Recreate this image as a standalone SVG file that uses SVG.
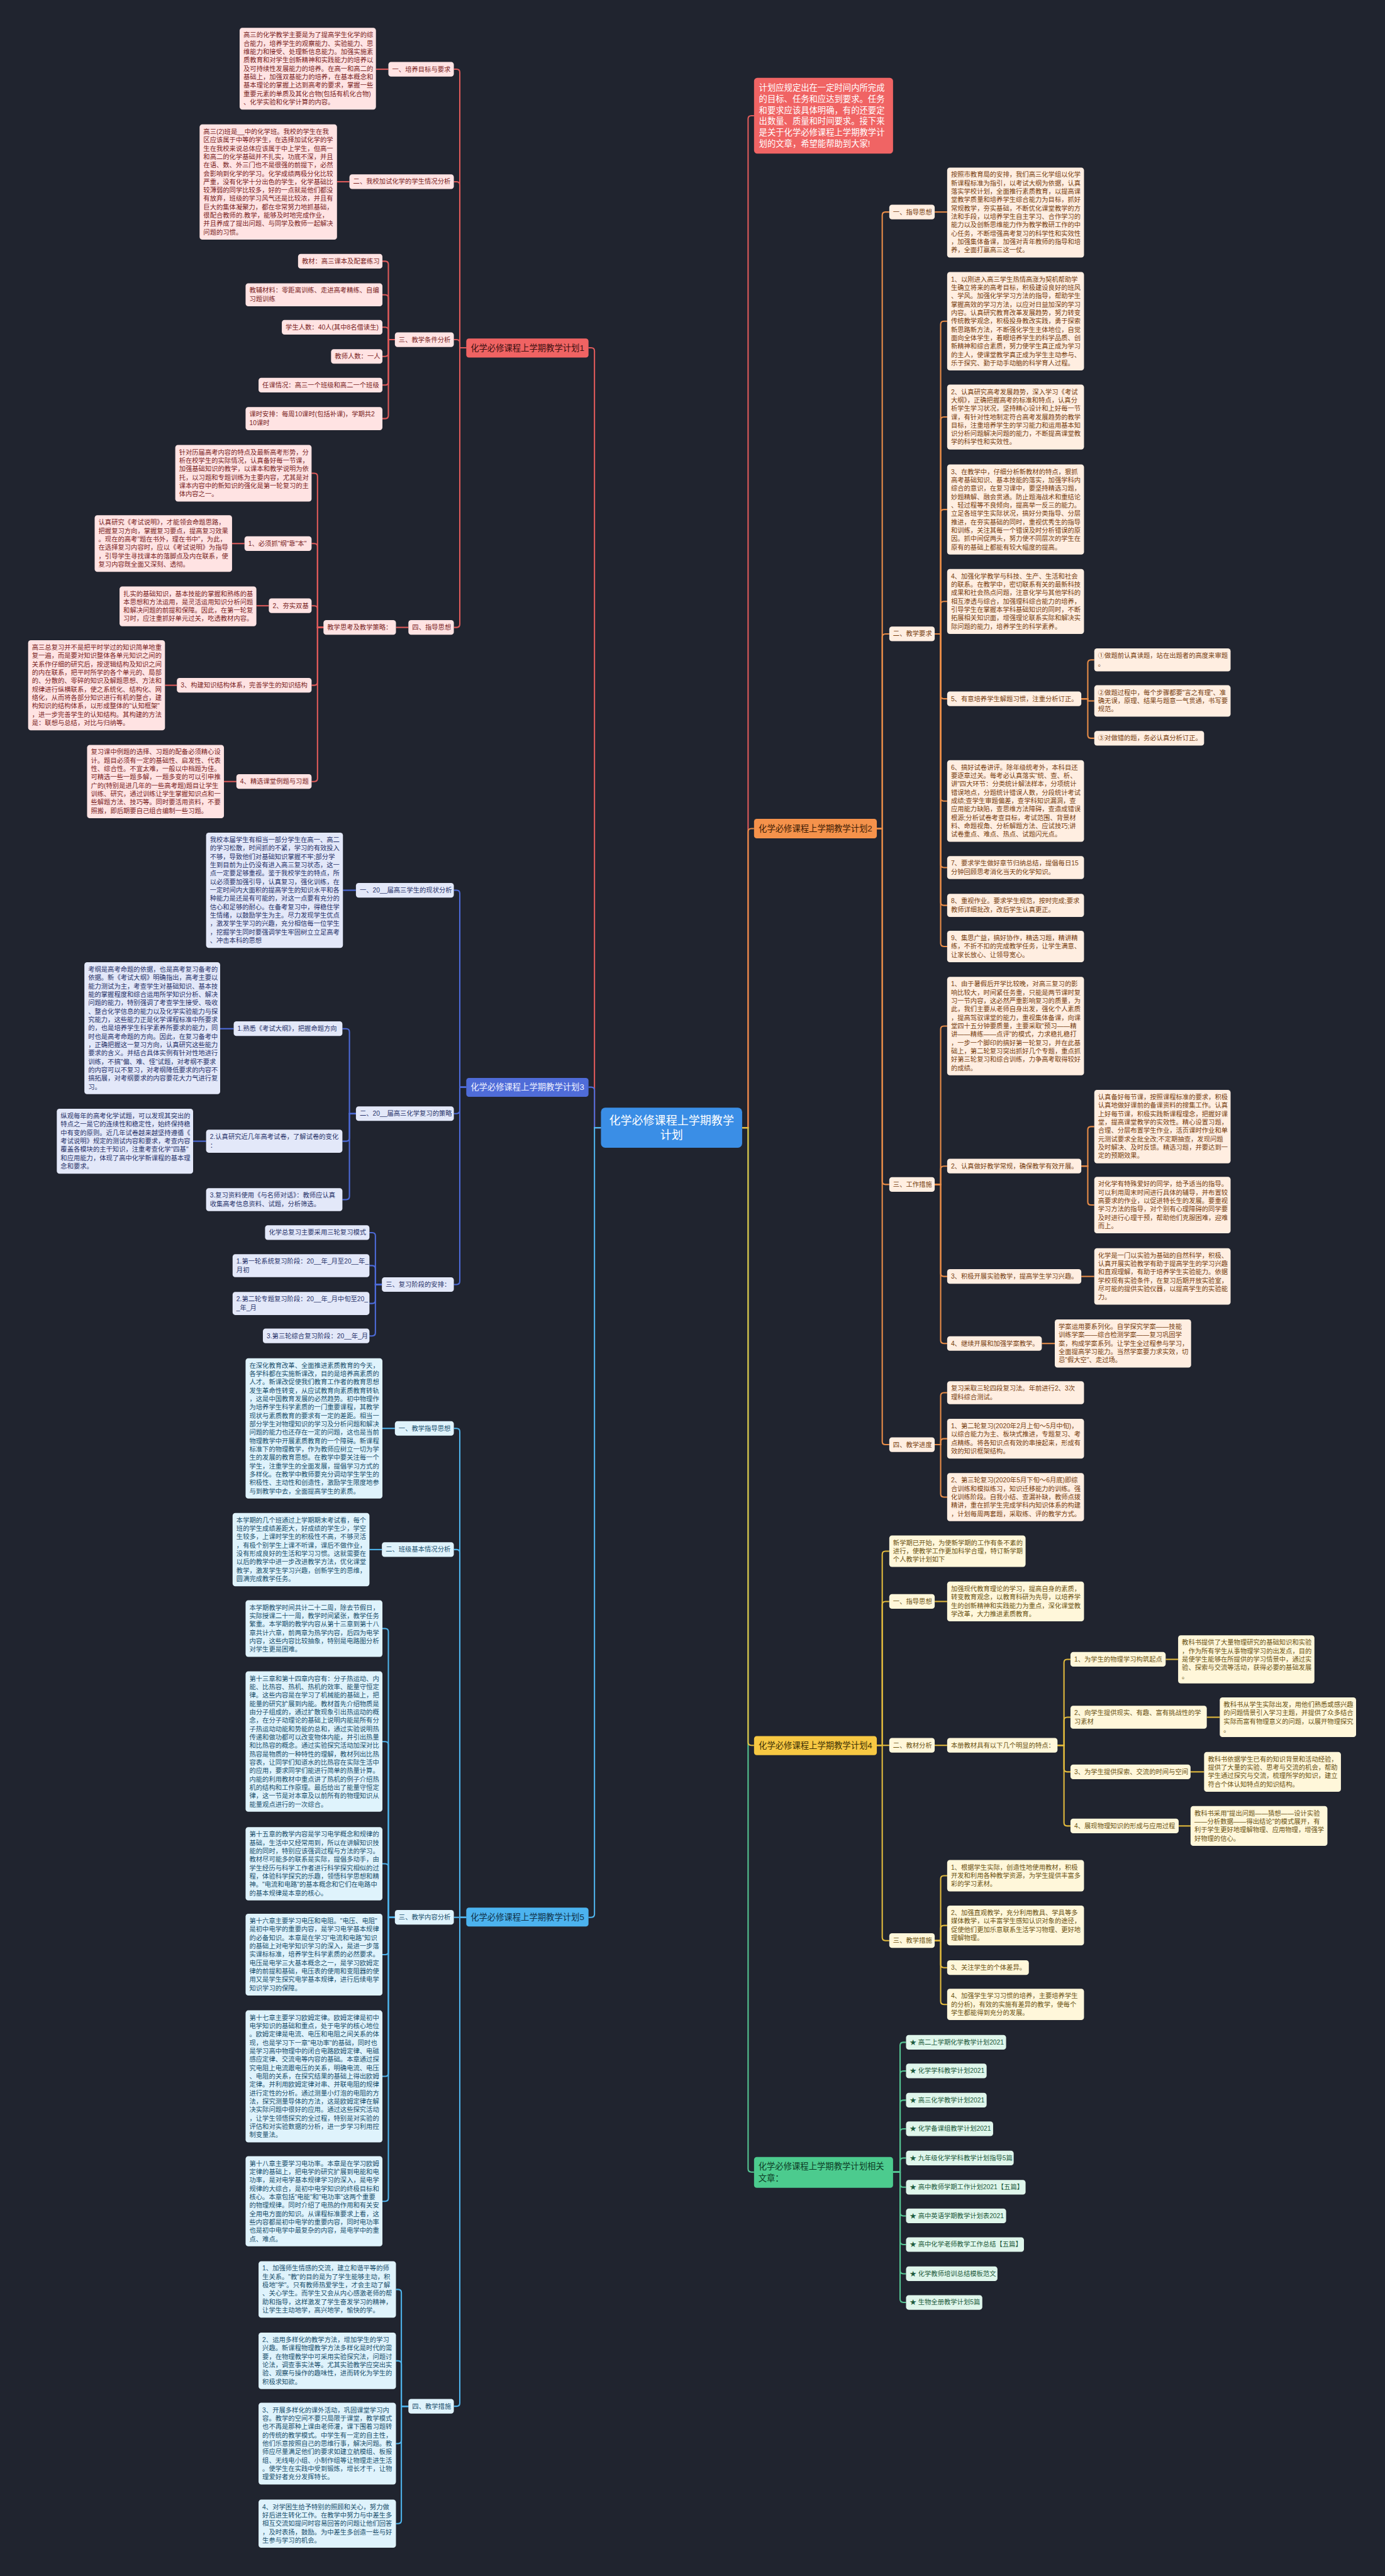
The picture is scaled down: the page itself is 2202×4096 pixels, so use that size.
<svg xmlns="http://www.w3.org/2000/svg" width="2202" height="4096" viewBox="0 0 2202 4096">
<style>
text{font-family:"Liberation Sans","Noto Sans CJK SC",sans-serif;font-size:12px}
.r rect{fill:#ffe3e3}.r text{fill:#7a2424}
.b rect{fill:#e3e8f9}.b text{fill:#28336a}
.c rect{fill:#dff3fc}.c text{fill:#19506d}
.o rect{fill:#ffeee1}.o text{fill:#77400f}
.y rect{fill:#fff7da}.y text{fill:#6b5312}
.g rect{fill:#dff6eb}.g text{fill:#1c5a3c}
.L path{fill:none;stroke-width:2.4}
.lr{stroke:#e05b5b}.lb{stroke:#4d6bd9}.lc{stroke:#4fb4ec}.lo{stroke:#e98d48}.ly{stroke:#e3bb3d}.lg{stroke:#55c593}
.m text{font-size:15.5px}
.ctr{text-anchor:middle}
</style>
<rect x="0" y="0" width="2202" height="4096" fill="#20242f"/>
<g transform="scale(0.86)">
<g id="connectors" class="L">
<path class="lr" d="M1111 2085H1099V649Q1099 643 1093 643H1088"/>
<path class="lb" d="M1111 2085H1099V2016Q1099 2010 1093 2010H1088"/>
<path class="lc" d="M1111 2085H1099V3539Q1099 3545 1093 3545H1088"/>
<path class="lr" d="M1372 2085H1383V220Q1383 214 1389 214H1394"/>
<path class="lo" d="M1372 2085H1383V1538Q1383 1532 1389 1532H1394"/>
<path class="lg" d="M1372 2085H1383V4010Q1383 4016 1389 4016H1394"/>
<path class="ly" d="M1372 2085H1383V3221Q1383 3227 1389 3227H1394"/>
<path class="lr" d="M862 643H850V134Q850 128 844 128H839"/>
<path class="lr" d="M862 643H850V342Q850 336 844 336H839"/>
<path class="lr" d="M862 643H850V634Q850 628 844 628H839"/>
<path class="lr" d="M862 643H850V1154Q850 1160 844 1160H839"/>
<path class="lr" d="M718 128H695"/>
<path class="lr" d="M646 336H623"/>
<path class="lr" d="M730 628H718V489Q718 483 712 483H707"/>
<path class="lr" d="M730 628H718V551Q718 545 712 545H707"/>
<path class="lr" d="M730 628H718V611Q718 605 712 605H707"/>
<path class="lr" d="M730 628H718V653Q718 659 712 659H707"/>
<path class="lr" d="M730 628H718V706Q718 712 712 712H707"/>
<path class="lr" d="M730 628H718V768Q718 774 712 774H707"/>
<path class="lr" d="M755 1160H732"/>
<path class="lr" d="M598 1160H587V881Q587 875 581 875H576"/>
<path class="lr" d="M598 1160H587V1011Q587 1005 581 1005H576"/>
<path class="lr" d="M598 1160H587V1126Q587 1120 581 1120H576"/>
<path class="lr" d="M598 1160H587V1261Q587 1267 581 1267H576"/>
<path class="lr" d="M598 1160H587V1439Q587 1445 581 1445H576"/>
<path class="lr" d="M452 1005H429"/>
<path class="lr" d="M497 1120H474"/>
<path class="lr" d="M327 1267H305"/>
<path class="lr" d="M437 1445H414"/>
<path class="lb" d="M862 2010H850V1652Q850 1646 844 1646H839"/>
<path class="lb" d="M862 2010H850V2053Q850 2059 844 2059H839"/>
<path class="lb" d="M862 2010H850V2369Q850 2375 844 2375H839"/>
<path class="lb" d="M658 1646H634"/>
<path class="lb" d="M658 2059H646V1908Q646 1902 640 1902H633"/>
<path class="lb" d="M658 2059H646V2104Q646 2110 640 2110H633"/>
<path class="lb" d="M658 2059H646V2212Q646 2218 640 2218H633"/>
<path class="lb" d="M432 1902H407"/>
<path class="lb" d="M381 2110H357"/>
<path class="lb" d="M706 2375H694V2285Q694 2279 688 2279H683"/>
<path class="lb" d="M706 2375H694V2346Q694 2340 688 2340H683"/>
<path class="lb" d="M706 2375H694V2404Q694 2410 688 2410H683"/>
<path class="lb" d="M706 2375H694V2464Q694 2470 688 2470H683"/>
<path class="lc" d="M862 3545H850V2647Q850 2641 844 2641H839"/>
<path class="lc" d="M862 3545H850V2871Q850 2865 844 2865H839"/>
<path class="lc" d="M862 3545H839"/>
<path class="lc" d="M862 3545H850V4443Q850 4449 844 4449H839"/>
<path class="lc" d="M730 2641H707"/>
<path class="lc" d="M706 2865H683"/>
<path class="lc" d="M730 3545H718V3017Q718 3011 712 3011H707"/>
<path class="lc" d="M730 3545H718V3226Q718 3220 712 3220H707"/>
<path class="lc" d="M730 3545H718V3452Q718 3446 712 3446H707"/>
<path class="lc" d="M730 3545H718V3608Q718 3614 712 3614H707"/>
<path class="lc" d="M730 3545H718V3833Q718 3839 712 3839H707"/>
<path class="lc" d="M730 3545H718V4064Q718 4070 712 4070H707"/>
<path class="lc" d="M755 4449H742V4239Q742 4233 736 4233H732"/>
<path class="lc" d="M755 4449H742V4371Q742 4365 736 4365H732"/>
<path class="lc" d="M755 4449H742V4512Q742 4518 736 4518H732"/>
<path class="lc" d="M755 4449H742V4660Q742 4666 736 4666H732"/>
<path class="lo" d="M1621 1532H1631V398Q1631 392 1637 392H1644"/>
<path class="lo" d="M1621 1532H1631V1178Q1631 1172 1637 1172H1644"/>
<path class="lo" d="M1621 1532H1631V2184Q1631 2190 1637 2190H1644"/>
<path class="lo" d="M1621 1532H1631V2665Q1631 2671 1637 2671H1644"/>
<path class="lo" d="M1728 392H1751"/>
<path class="lo" d="M1728 1172H1739V600Q1739 594 1745 594H1751"/>
<path class="lo" d="M1728 1172H1739V777Q1739 771 1745 771H1751"/>
<path class="lo" d="M1728 1172H1739V948Q1739 942 1745 942H1751"/>
<path class="lo" d="M1728 1172H1739V1118Q1739 1112 1745 1112H1751"/>
<path class="lo" d="M1728 1172H1739V1286Q1739 1292 1745 1292H1751"/>
<path class="lo" d="M1728 1172H1739V1475Q1739 1481 1745 1481H1751"/>
<path class="lo" d="M1728 1172H1739V1598Q1739 1604 1745 1604H1751"/>
<path class="lo" d="M1728 1172H1739V1668Q1739 1674 1745 1674H1751"/>
<path class="lo" d="M1728 1172H1739V1744Q1739 1750 1745 1750H1751"/>
<path class="lo" d="M1999 1292H2011V1226Q2011 1220 2017 1220H2023"/>
<path class="lo" d="M1999 1292H2011V1296H2023"/>
<path class="lo" d="M1999 1292H2011V1359Q2011 1365 2017 1365H2023"/>
<path class="lo" d="M1728 2190H1739V1903Q1739 1897 1745 1897H1751"/>
<path class="lo" d="M1728 2190H1739V2162Q1739 2156 1745 2156H1751"/>
<path class="lo" d="M1728 2190H1739V2354Q1739 2360 1745 2360H1751"/>
<path class="lo" d="M1728 2190H1739V2478Q1739 2484 1745 2484H1751"/>
<path class="lo" d="M1999 2156H2011V2089Q2011 2083 2017 2083H2023"/>
<path class="lo" d="M1999 2156H2011V2222Q2011 2228 2017 2228H2023"/>
<path class="lo" d="M1999 2360H2023"/>
<path class="lo" d="M1926 2484H1950"/>
<path class="lo" d="M1728 2671H1739V2581Q1739 2575 1745 2575H1751"/>
<path class="lo" d="M1728 2671H1739V2666Q1739 2660 1745 2660H1751"/>
<path class="lo" d="M1728 2671H1739V2762Q1739 2768 1745 2768H1751"/>
<path class="ly" d="M1621 3227H1631V2874Q1631 2868 1637 2868H1644"/>
<path class="ly" d="M1621 3227H1631V2967Q1631 2961 1637 2961H1644"/>
<path class="ly" d="M1621 3227H1644"/>
<path class="ly" d="M1621 3227H1631V3582Q1631 3588 1637 3588H1644"/>
<path class="ly" d="M1728 2961H1751"/>
<path class="ly" d="M1728 3227H1751"/>
<path class="ly" d="M1955 3227H1967V3074Q1967 3068 1973 3068H1979"/>
<path class="ly" d="M1955 3227H1967V3181Q1967 3175 1973 3175H1979"/>
<path class="ly" d="M1955 3227H1967V3270Q1967 3276 1973 3276H1979"/>
<path class="ly" d="M1955 3227H1967V3370Q1967 3376 1973 3376H1979"/>
<path class="ly" d="M2155 3068H2178"/>
<path class="ly" d="M2231 3175H2255"/>
<path class="ly" d="M2201 3276H2226"/>
<path class="ly" d="M2179 3376H2201"/>
<path class="ly" d="M1728 3588H1739V3474Q1739 3468 1745 3468H1751"/>
<path class="ly" d="M1728 3588H1739V3566Q1739 3560 1745 3560H1751"/>
<path class="ly" d="M1728 3588H1739V3632Q1739 3638 1745 3638H1751"/>
<path class="ly" d="M1728 3588H1739V3700Q1739 3706 1745 3706H1751"/>
<path class="lg" d="M1651 4016H1664V3782Q1664 3776 1670 3776H1675"/>
<path class="lg" d="M1651 4016H1664V3835Q1664 3829 1670 3829H1675"/>
<path class="lg" d="M1651 4016H1664V3889Q1664 3883 1670 3883H1675"/>
<path class="lg" d="M1651 4016H1664V3942Q1664 3936 1670 3936H1675"/>
<path class="lg" d="M1651 4016H1664V3996Q1664 3990 1670 3990H1675"/>
<path class="lg" d="M1651 4016H1664V4038Q1664 4044 1670 4044H1675"/>
<path class="lg" d="M1651 4016H1664V4091Q1664 4097 1670 4097H1675"/>
<path class="lg" d="M1651 4016H1664V4144Q1664 4150 1670 4150H1675"/>
<path class="lg" d="M1651 4016H1664V4198Q1664 4204 1670 4204H1675"/>
<path class="lg" d="M1651 4016H1664V4251Q1664 4257 1670 4257H1675"/>
</g>

<g id="root"><rect x="1111" y="2048" width="261" height="74" rx="8" fill="#3a8ee6"/><text class="ctr" x="1241.5" y="2079" style="font-size:21px" fill="#ffffff"><tspan x="1241.5">化学必修课程上学期教学</tspan><tspan x="1241.5" dy="27">计划</tspan></text></g>

<g id="intro"><rect x="1394" y="144" width="257" height="140" rx="6" fill="#f06464"/><text x="1403" y="167.5" style="font-size:15.5px" fill="#ffffff"><tspan x="1403">计划应规定出在一定时间内所完成</tspan><tspan x="1403" dy="20.7">的目标、任务和应达到要求。任务</tspan><tspan x="1403" dy="20.7">和要求应该具体明确，有的还要定</tspan><tspan x="1403" dy="20.7">出数量、质量和时间要求。接下来</tspan><tspan x="1403" dy="20.7">是关于化学必修课程上学期教学计</tspan><tspan x="1403" dy="20.7">划的文章，希望能帮助到大家!</tspan></text></g>

<g id="plan1" class="m"><rect x="862" y="626" width="226" height="35" rx="5" fill="#f06363"/><text class="ctr" x="975" y="648.5" fill="#3b1010">化学必修课程上学期教学计划1</text></g>
<g id="plan3" class="m"><rect x="862" y="1993" width="226" height="35" rx="5" fill="#4f6cd8"/><text class="ctr" x="975" y="2015.5" fill="#eef1ff">化学必修课程上学期教学计划3</text></g>
<g id="plan5" class="m"><rect x="862" y="3527" width="226" height="35" rx="5" fill="#4cb3ef"/><text class="ctr" x="975" y="3550.5" fill="#10324a">化学必修课程上学期教学计划5</text></g>
<g id="plan2" class="m"><rect x="1394" y="1514" width="227" height="36" rx="5" fill="#f5924b"/><text class="ctr" x="1507.5" y="1537.5" fill="#3d1c05">化学必修课程上学期教学计划2</text></g>
<g id="plan4" class="m"><rect x="1394" y="3210" width="227" height="35" rx="5" fill="#f7c843"/><text class="ctr" x="1507.5" y="3232.5" fill="#3d3005">化学必修课程上学期教学计划4</text></g>
<g id="related" class="m"><rect x="1394" y="3988" width="257" height="57" rx="5" fill="#4ccb8e"/><text x="1402" y="4010.5" fill="#0d3b25"><tspan x="1402">化学必修课程上学期教学计划相关</tspan><tspan x="1402" dy="22">文章：</tspan></text></g>

<g id="n1a" class="r"><rect x="718" y="114.5" width="121" height="27" rx="5"/><text x="725" y="132">一、培养目标与要求</text></g>
<g id="n1a1" class="r"><rect x="443" y="51.5" width="252" height="151" rx="5"/><text x="450" y="69"><tspan x="450">高三的化学教学主要是为了提高学生化学的综</tspan><tspan x="450" dy="15.5">合能力，培养学生的观察能力、实验能力、思</tspan><tspan x="450" dy="15.5">维能力和接受、处理新信息能力。加强实施素</tspan><tspan x="450" dy="15.5">质教育和对学生创新精神和实践能力的培养以</tspan><tspan x="450" dy="15.5">及可持续性发展能力的培养。在高一和高二的</tspan><tspan x="450" dy="15.5">基础上，加强双基能力的培养，在基本概念和</tspan><tspan x="450" dy="15.5">基本理论的掌握上达到高考的要求，掌握一些</tspan><tspan x="450" dy="15.5">重要元素的单质及其化合物(包括有机化合物)</tspan><tspan x="450" dy="15.5">、化学实验和化学计算的内容。</tspan></text></g>
<g id="n1b" class="r"><rect x="646" y="322.5" width="193" height="27" rx="5"/><text x="653" y="340">二、我校加试化学的学生情况分析</text></g>
<g id="n1b1" class="r"><rect x="369" y="230" width="254" height="213" rx="5"/><text x="376" y="247.5"><tspan x="376">高三(2)班是__中的化学班。我校的学生在我</tspan><tspan x="376" dy="15.5">区应该属于中等的学生，在选择加试化学的学</tspan><tspan x="376" dy="15.5">生在我校来说总体应该属于中上学生，但高一</tspan><tspan x="376" dy="15.5">和高二的化学基础并不扎实，功底不深，并且</tspan><tspan x="376" dy="15.5">在语、数、外三门也不是很强的前提下，必然</tspan><tspan x="376" dy="15.5">会影响到化学的学习。化学成绩两极分化比较</tspan><tspan x="376" dy="15.5">严重，没有化学十分出色的学生，化学基础比</tspan><tspan x="376" dy="15.5">较薄弱的同学比较多，好的一点就是他们都没</tspan><tspan x="376" dy="15.5">有放弃，班级的学习风气还是比较浓，并且有</tspan><tspan x="376" dy="15.5">巨大的集体凝聚力，都在非常努力地抓基础，</tspan><tspan x="376" dy="15.5">很配合教师的.教学，能够及时地完成作业，</tspan><tspan x="376" dy="15.5">并且养成了提出问题、与同学及教师一起解决</tspan><tspan x="376" dy="15.5">问题的习惯。</tspan></text></g>
<g id="n1c" class="r"><rect x="730" y="614.5" width="109" height="27" rx="5"/><text x="737" y="632">三、教学条件分析</text></g>
<g id="n1c1" class="r"><rect x="551" y="469.5" width="156" height="27" rx="5"/><text x="558" y="487">教材：高三课本及配套练习</text></g>
<g id="n1c2" class="r"><rect x="454" y="523.75" width="253" height="42.5" rx="5"/><text x="461" y="541.25"><tspan x="461">教辅材料：零距离训练、走进高考精练、自编</tspan><tspan x="461" dy="15.5">习题训练</tspan></text></g>
<g id="n1c3" class="r"><rect x="521" y="591.5" width="186" height="27" rx="5"/><text x="528" y="609">学生人数：40人(其中8名借读生)</text></g>
<g id="n1c4" class="r"><rect x="612" y="645.5" width="95" height="27" rx="5"/><text x="619" y="663">教师人数：一人</text></g>
<g id="n1c5" class="r"><rect x="478" y="698.5" width="229" height="27" rx="5"/><text x="485" y="716">任课情况：高三一个班级和高二一个班级</text></g>
<g id="n1c6" class="r"><rect x="454" y="752.75" width="253" height="42.5" rx="5"/><text x="461" y="770.25"><tspan x="461">课时安排：每周10课时(包括补课)，学期共2</tspan><tspan x="461" dy="15.5">10课时</tspan></text></g>
<g id="n1d" class="r"><rect x="755" y="1146.5" width="84" height="27" rx="5"/><text x="762" y="1164">四、指导思想</text></g>
<g id="n1d0" class="r"><rect x="598" y="1146.5" width="134" height="27" rx="5"/><text x="605" y="1164">教学思考及教学策略：</text></g>
<g id="n1d1" class="r"><rect x="324" y="822.75" width="252" height="104.5" rx="5"/><text x="331" y="840.25"><tspan x="331">针对历届高考内容的特点及最新高考形势，分</tspan><tspan x="331" dy="15.5">析在校学生的实际情况，认真备好每一节课，</tspan><tspan x="331" dy="15.5">加强基础知识的教学，以课本和教学说明为依</tspan><tspan x="331" dy="15.5">托，以习题和专题训练为主要内容，尤其是对</tspan><tspan x="331" dy="15.5">课本内容中的新知识的强化是第一轮复习的主</tspan><tspan x="331" dy="15.5">体内容之一。</tspan></text></g>
<g id="n1d2" class="r"><rect x="452" y="991.5" width="124" height="27" rx="5"/><text x="459" y="1009">1、必须抓"纲"靠"本"</text></g>
<g id="n1d2a" class="r"><rect x="175" y="952.75" width="254" height="104.5" rx="5"/><text x="182" y="970.25"><tspan x="182">认真研究《考试说明》，才能领会命题思路，</tspan><tspan x="182" dy="15.5">把握复习方向，掌握复习要点，提高复习效果</tspan><tspan x="182" dy="15.5">。现在的高考"题在书外，理在书中"，为此，</tspan><tspan x="182" dy="15.5">在选择复习内容时，应以《考试说明》为指导</tspan><tspan x="182" dy="15.5">，引导学生寻找课本的落脚点及内在联系，使</tspan><tspan x="182" dy="15.5">复习内容既全面又深刻、透彻。</tspan></text></g>
<g id="n1d3" class="r"><rect x="497" y="1106.5" width="79" height="27" rx="5"/><text x="504" y="1124">2、夯实双基</text></g>
<g id="n1d3a" class="r"><rect x="221" y="1084.25" width="253" height="73.5" rx="5"/><text x="228" y="1101.75"><tspan x="228">扎实的基础知识，基本技能的掌握和熟练的基</tspan><tspan x="228" dy="15.5">本思想和方法运用，是灵活运用知识分析问题</tspan><tspan x="228" dy="15.5">和解决问题的前提和保障。因此，在第一轮复</tspan><tspan x="228" dy="15.5">习时，应注重抓好单元过关，吃透教材内容。</tspan></text></g>
<g id="n1d4" class="r"><rect x="327" y="1253.5" width="249" height="27" rx="5"/><text x="334" y="1271">3、构建知识结构体系，完善学生的知识结构</text></g>
<g id="n1d4a" class="r"><rect x="52" y="1183.75" width="253" height="166.5" rx="5"/><text x="59" y="1201.25"><tspan x="59">高三总复习并不是把平时学过的知识简单地重</tspan><tspan x="59" dy="15.5">复一遍，而是要对知识整体各单元知识之间的</tspan><tspan x="59" dy="15.5">关系作仔细的研究后，按逻辑结构及知识之间</tspan><tspan x="59" dy="15.5">的内在联系，把平时所学的各个单元的、局部</tspan><tspan x="59" dy="15.5">的、分散的、零碎的知识及解题思想、方法和</tspan><tspan x="59" dy="15.5">规律进行纵横联系，使之系统化、结构化、网</tspan><tspan x="59" dy="15.5">络化，从而将各部分知识进行有机的整合，建</tspan><tspan x="59" dy="15.5">构知识的结构体系，以形成整体的"认知框架"</tspan><tspan x="59" dy="15.5">，进一步完善学生的认知结构。其构建的方法</tspan><tspan x="59" dy="15.5">是：联想与总结，对比与归纳等。</tspan></text></g>
<g id="n1d5" class="r"><rect x="437" y="1431.5" width="139" height="27" rx="5"/><text x="444" y="1449">4、精选课堂例题与习题</text></g>
<g id="n1d5a" class="r"><rect x="161" y="1377.25" width="253" height="135.5" rx="5"/><text x="168" y="1394.75"><tspan x="168">复习课中例题的选择、习题的配备必须精心设</tspan><tspan x="168" dy="15.5">计。题目必须有一定的基础性、启发性、代表</tspan><tspan x="168" dy="15.5">性、综合性。不宜太难，一般以中档题为佳。</tspan><tspan x="168" dy="15.5">可精选一些一题多解，一题多变的可以引申推</tspan><tspan x="168" dy="15.5">广的(特别是进几年的一些高考题)题目让学生</tspan><tspan x="168" dy="15.5">训练、研究，通过训练让学生掌握知识点和一</tspan><tspan x="168" dy="15.5">些解题方法、技巧等。同时要活用资料，不要</tspan><tspan x="168" dy="15.5">照搬，即后期要自己组合编制一些习题。</tspan></text></g>

<g id="n3a" class="b"><rect x="658" y="1632.5" width="181" height="27" rx="5"/><text x="665" y="1650">一、20__届高三学生的现状分析</text></g>
<g id="n3a1" class="b"><rect x="381" y="1539.5" width="253" height="213" rx="5"/><text x="388" y="1557"><tspan x="388">我校本届学生有相当一部分学生在高一、高二</tspan><tspan x="388" dy="15.5">的学习松散，时间抓的不紧，学习的有效投入</tspan><tspan x="388" dy="15.5">不够，导致他们对基础知识掌握不牢;部分学</tspan><tspan x="388" dy="15.5">生到目前为止仍没有进入高三复习状态，这一</tspan><tspan x="388" dy="15.5">点一定要足够重视。鉴于我校学生的特点，所</tspan><tspan x="388" dy="15.5">以必须要加强引导，认真复习，强化训练，在</tspan><tspan x="388" dy="15.5">一定时间内大面积的提高学生的知识水平和各</tspan><tspan x="388" dy="15.5">种能力是还是有可能的，对这一点要有充分的</tspan><tspan x="388" dy="15.5">信心和足够的耐心。在备考复习中，得稳住学</tspan><tspan x="388" dy="15.5">生情绪，以鼓励学生为主。尽力发现学生优点</tspan><tspan x="388" dy="15.5">，激发学生学习的兴趣，充分相信每一位学生</tspan><tspan x="388" dy="15.5">，挖掘学生同时要强调学生牢固树立立足高考</tspan><tspan x="388" dy="15.5">、冲击本科的思想</tspan></text></g>
<g id="n3b" class="b"><rect x="658" y="2045.5" width="181" height="27" rx="5"/><text x="665" y="2063">二、20__届高三化学复习的策略</text></g>
<g id="n3b1" class="b"><rect x="432" y="1888.5" width="201" height="27" rx="5"/><text x="439" y="1906">1.熟悉《考试大纲》，把握命题方向</text></g>
<g id="n3b1a" class="b"><rect x="156" y="1779" width="251" height="244" rx="5"/><text x="163" y="1796.5"><tspan x="163">考纲是高考命题的依据，也是高考复习备考的</tspan><tspan x="163" dy="15.5">依据。新《考试大纲》明确指出，高考主要以</tspan><tspan x="163" dy="15.5">能力测试为主，考查学生对基础知识、基本技</tspan><tspan x="163" dy="15.5">能的掌握程度和综合运用所学知识分析、解决</tspan><tspan x="163" dy="15.5">问题的能力，特别强调了考查学生接受、吸收</tspan><tspan x="163" dy="15.5">、整合化学信息的能力以及化学实验能力与探</tspan><tspan x="163" dy="15.5">究能力，这些能力正是化学课程标准中所要求</tspan><tspan x="163" dy="15.5">的，也是培养学生科学素养所要求的能力，同</tspan><tspan x="163" dy="15.5">时也是高考命题的方向。因此，在复习备考中</tspan><tspan x="163" dy="15.5">，正确把握这一复习方向，认真研究这些能力</tspan><tspan x="163" dy="15.5">要求的含义。并结合具体实例有针对性地进行</tspan><tspan x="163" dy="15.5">训练，不搞"偏、难、怪"试题，对考纲不要求</tspan><tspan x="163" dy="15.5">的内容可以不复习，对考纲降低要求的内容不</tspan><tspan x="163" dy="15.5">搞拓展，对考纲要求的内容要花大力气进行复</tspan><tspan x="163" dy="15.5">习。</tspan></text></g>
<g id="n3b2" class="b"><rect x="381" y="2088.75" width="252" height="42.5" rx="5"/><text x="388" y="2106.25"><tspan x="388">2.认真研究近几年高考试卷，了解试卷的变化</tspan><tspan x="388" dy="15.5">：</tspan></text></g>
<g id="n3b2a" class="b"><rect x="105" y="2050" width="252" height="120" rx="5"/><text x="112" y="2067.5"><tspan x="112">纵观每年的高考化学试题，可以发现其突出的</tspan><tspan x="112" dy="15.5">特点之一是它的连续性和稳定性，始终保持稳</tspan><tspan x="112" dy="15.5">中有变的原则。近几年试卷越来越坚持遵循《</tspan><tspan x="112" dy="15.5">考试说明》规定的测试内容和要求，考查内容</tspan><tspan x="112" dy="15.5">覆盖各模块的主干知识，注重考查化学"四基"</tspan><tspan x="112" dy="15.5">和应用能力，体现了高中化学新课程的基本理</tspan><tspan x="112" dy="15.5">念和要求。</tspan></text></g>
<g id="n3b3" class="b"><rect x="381" y="2196.75" width="252" height="42.5" rx="5"/><text x="388" y="2214.25"><tspan x="388">3.复习资料使用《与名师对话》：教师应认真</tspan><tspan x="388" dy="15.5">收集高考信息资料、试题，分析筛选。</tspan></text></g>
<g id="n3c" class="b"><rect x="706" y="2361.5" width="133" height="27" rx="5"/><text x="713" y="2379">三、复习阶段的安排：</text></g>
<g id="n3c1" class="b"><rect x="490" y="2265.5" width="193" height="27" rx="5"/><text x="497" y="2283">化学总复习主要采用三轮复习模式</text></g>
<g id="n3c2" class="b"><rect x="430" y="2318.75" width="253" height="42.5" rx="5"/><text x="437" y="2336.25"><tspan x="437">1.第一轮系统复习阶段：20__年_月至20__年_</tspan><tspan x="437" dy="15.5">月初</tspan></text></g>
<g id="n3c3" class="b"><rect x="430" y="2388.75" width="253" height="42.5" rx="5"/><text x="437" y="2406.25"><tspan x="437">2.第二轮专题复习阶段：20__年_月中旬至20_</tspan><tspan x="437" dy="15.5">_年_月</tspan></text></g>
<g id="n3c4" class="b"><rect x="486" y="2456.5" width="197" height="27" rx="5"/><text x="493" y="2474">3.第三轮综合复习阶段：20__年_月</text></g>

<g id="n5a" class="c"><rect x="730" y="2627.5" width="109" height="27" rx="5"/><text x="737" y="2645">一、教学指导思想</text></g>
<g id="n5a1" class="c"><rect x="454" y="2511.25" width="253" height="259.5" rx="5"/><text x="461" y="2528.75"><tspan x="461">在深化教育改革、全面推进素质教育的今天，</tspan><tspan x="461" dy="15.5">各学科都在实施新课改，目的是培养高素质的</tspan><tspan x="461" dy="15.5">人才。新课改促使我们教育工作者的教育思想</tspan><tspan x="461" dy="15.5">发生革命性转变，从应试教育向素质教育转轨</tspan><tspan x="461" dy="15.5">，这是中国教育发展的必然趋势。初中物理作</tspan><tspan x="461" dy="15.5">为培养学生科学素质的一门重要课程，其教学</tspan><tspan x="461" dy="15.5">现状与素质教育的要求有一定的差距。相当一</tspan><tspan x="461" dy="15.5">部分学生对物理知识的学习及分析问题和解决</tspan><tspan x="461" dy="15.5">问题的能力也还存在一定的问题，这也是当前</tspan><tspan x="461" dy="15.5">物理教学中开展素质教育的一个障碍。新课程</tspan><tspan x="461" dy="15.5">标准下的物理教学，作为教师应树立一切为学</tspan><tspan x="461" dy="15.5">生的发展的教育思想。在教学中要关注每一个</tspan><tspan x="461" dy="15.5">学生，注重学生的全面发展，提倡学习方式的</tspan><tspan x="461" dy="15.5">多样化。在教学中教师要充分调动学生学生的</tspan><tspan x="461" dy="15.5">积极性、主动性和创造性，激励学生限度地参</tspan><tspan x="461" dy="15.5">与到教学中去，全面提高学生的素质。</tspan></text></g>
<g id="n5b" class="c"><rect x="706" y="2851.5" width="133" height="27" rx="5"/><text x="713" y="2869">二、班级基本情况分析</text></g>
<g id="n5b1" class="c"><rect x="430" y="2797.25" width="253" height="135.5" rx="5"/><text x="437" y="2814.75"><tspan x="437">本学期的几个班通过上学期期末考试看，每个</tspan><tspan x="437" dy="15.5">班的学生成绩差距大，好成绩的学生少，学空</tspan><tspan x="437" dy="15.5">生较多，上课时学生的积极性不高，不够灵活</tspan><tspan x="437" dy="15.5">，有极个别学生上课不听课，课后不做作业，</tspan><tspan x="437" dy="15.5">没有形成良好的生活和学习习惯。这就需要在</tspan><tspan x="437" dy="15.5">以后的教学中进一步改进教学方法，优化课堂</tspan><tspan x="437" dy="15.5">教学，激发学生学习兴趣，创新学生的思维，</tspan><tspan x="437" dy="15.5">圆满完成教学任务。</tspan></text></g>
<g id="n5c" class="c"><rect x="730" y="3531.5" width="109" height="27" rx="5"/><text x="737" y="3549">三、教学内容分析</text></g>
<g id="n5c1" class="c"><rect x="454" y="2958.75" width="253" height="104.5" rx="5"/><text x="461" y="2976.25"><tspan x="461">本学期教学时间共计二十二周，除去节假日，</tspan><tspan x="461" dy="15.5">实际授课二十一周，教学时间紧张，教学任务</tspan><tspan x="461" dy="15.5">繁重。本学期的教学内容从第十三章到第十八</tspan><tspan x="461" dy="15.5">章共计六章，前两章为热学内容，后四为电学</tspan><tspan x="461" dy="15.5">内容，这些内容比较抽象，特别是电路图分析</tspan><tspan x="461" dy="15.5">对学生更是困难。</tspan></text></g>
<g id="n5c2" class="c"><rect x="454" y="3090.25" width="253" height="259.5" rx="5"/><text x="461" y="3107.75"><tspan x="461">第十三章和第十四章内容有：分子热运动、内</tspan><tspan x="461" dy="15.5">能、比热容、热机、热机的效率、能量守恒定</tspan><tspan x="461" dy="15.5">律。这些内容是在学习了机械能的基础上，把</tspan><tspan x="461" dy="15.5">能量的研究扩展到内能。教材首先介绍物质是</tspan><tspan x="461" dy="15.5">由分子组成的，通过扩散现象引出热运动的概</tspan><tspan x="461" dy="15.5">念，在分子动理论的基础上说明内能是所有分</tspan><tspan x="461" dy="15.5">子热运动动能和势能的总和，通过实验说明热</tspan><tspan x="461" dy="15.5">传递和做功都可以改变物体内能，并引出热量</tspan><tspan x="461" dy="15.5">和比热容的概念。通过实验探究活动加深对比</tspan><tspan x="461" dy="15.5">热容是物质的一种特性的理解，教材列出比热</tspan><tspan x="461" dy="15.5">容表，让同学们知道水的比热容在实际生活中</tspan><tspan x="461" dy="15.5">的应用，要求同学们能进行简单的热量计算。</tspan><tspan x="461" dy="15.5">内能的利用教材中重点讲了热机的例子介绍热</tspan><tspan x="461" dy="15.5">机的结构和工作原理。最后给出了能量守恒定</tspan><tspan x="461" dy="15.5">律，这一节是对本章及以前所有的物理知识从</tspan><tspan x="461" dy="15.5">能量观点进行的一次综合。</tspan></text></g>
<g id="n5c3" class="c"><rect x="454" y="3378.25" width="253" height="135.5" rx="5"/><text x="461" y="3395.75"><tspan x="461">第十五章的教学内容是学习电学概念和规律的</tspan><tspan x="461" dy="15.5">基础，生活中又经常用到，所以在讲解知识技</tspan><tspan x="461" dy="15.5">能的同时，特别应该强调过程与方法的学习。</tspan><tspan x="461" dy="15.5">教材尽可能多的联系是实际，提倡多动手，由</tspan><tspan x="461" dy="15.5">学生经历与科学工作者进行科学探究相似的过</tspan><tspan x="461" dy="15.5">程，体验科学探究的乐趣，领悟科学思想和精</tspan><tspan x="461" dy="15.5">神。"电流和电路"的基本概念和它们在电路中</tspan><tspan x="461" dy="15.5">的基本规律是本章的核心。</tspan></text></g>
<g id="n5c4" class="c"><rect x="454" y="3538.5" width="253" height="151" rx="5"/><text x="461" y="3556"><tspan x="461">第十六章主要学习电压和电阻。"电压、电阻"</tspan><tspan x="461" dy="15.5">是初中电学的重要内容，是学习电学基本规律</tspan><tspan x="461" dy="15.5">的必备知识。本章是在学习"电流和电路"知识</tspan><tspan x="461" dy="15.5">的基础上对电学知识学习的深入，是进一步落</tspan><tspan x="461" dy="15.5">实课标标准，培养学生科学素质的必然要求。</tspan><tspan x="461" dy="15.5">电压是电学三大基本概念之一，是学习欧姆定</tspan><tspan x="461" dy="15.5">律的前提和基础，电压表的使用和变阻器的使</tspan><tspan x="461" dy="15.5">用又是学生探究电学基本规律，进行后续电学</tspan><tspan x="461" dy="15.5">知识学习的保障。</tspan></text></g>
<g id="n5c5" class="c"><rect x="454" y="3717" width="253" height="244" rx="5"/><text x="461" y="3734.5"><tspan x="461">第十七章主要学习欧姆定律。欧姆定律是初中</tspan><tspan x="461" dy="15.5">电学知识的基础和重点，处于电学的核心地位</tspan><tspan x="461" dy="15.5">。欧姆定律是电流、电压和电阻之间关系的体</tspan><tspan x="461" dy="15.5">现，也是学习下一章"电功率"的基础，同时也</tspan><tspan x="461" dy="15.5">是学习高中物理中的闭合电路欧姆定律、电磁</tspan><tspan x="461" dy="15.5">感应定律、交流电等内容的基础。本章通过探</tspan><tspan x="461" dy="15.5">究电阻上电流跟电压的关系，明确电流、电压</tspan><tspan x="461" dy="15.5">、电阻的关系，在探究结果的基础上得出欧姆</tspan><tspan x="461" dy="15.5">定律。并利用欧姆定律对串、并联电阻的规律</tspan><tspan x="461" dy="15.5">进行定性的分析。通过测量小灯泡的电阻的方</tspan><tspan x="461" dy="15.5">法，探究测量导体的方法，这是欧姆定律在解</tspan><tspan x="461" dy="15.5">决实际问题中很好的应用。通过这些探究活动</tspan><tspan x="461" dy="15.5">，让学生领悟探究的全过程，特别是对实验的</tspan><tspan x="461" dy="15.5">评估和对实验数据的分析，进一步学习利用控</tspan><tspan x="461" dy="15.5">制变量法。</tspan></text></g>
<g id="n5c6" class="c"><rect x="454" y="3986.75" width="253" height="166.5" rx="5"/><text x="461" y="4004.25"><tspan x="461">第十八章主要学习电功率。本章是在学习欧姆</tspan><tspan x="461" dy="15.5">定律的基础上，把电学的研究扩展到电能和电</tspan><tspan x="461" dy="15.5">功率，是对电学基本规律学习的深入，是电学</tspan><tspan x="461" dy="15.5">规律的大综合，是初中电学知识的终极目标和</tspan><tspan x="461" dy="15.5">核心。本章包括"电能"和"电功率"这两个重要</tspan><tspan x="461" dy="15.5">的物理规律。同时介绍了电热的作用和有关安</tspan><tspan x="461" dy="15.5">全用电方面的知识。从课程标准要求上看，这</tspan><tspan x="461" dy="15.5">些内容都是初中电学的重要内容，同时电功率</tspan><tspan x="461" dy="15.5">也是初中电学中最复杂的内容，是电学中的重</tspan><tspan x="461" dy="15.5">点、难点。</tspan></text></g>
<g id="n5d" class="c"><rect x="755" y="4435.5" width="84" height="27" rx="5"/><text x="762" y="4453">四、教学措施</text></g>
<g id="n5d1" class="c"><rect x="478" y="4180.75" width="254" height="104.5" rx="5"/><text x="485" y="4198.25"><tspan x="485">1、加强师生情感的交流，建立和谐平等的师</tspan><tspan x="485" dy="15.5">生关系。"教"的目的是为了学生能够主动，积</tspan><tspan x="485" dy="15.5">极地"学"。只有教师热爱学生，才会主动了解</tspan><tspan x="485" dy="15.5">、关心学生。而学生又会从内心感激老师的帮</tspan><tspan x="485" dy="15.5">助和指导，这样激发了学生奋发学习的精神，</tspan><tspan x="485" dy="15.5">让学生主动地学，高兴地学，愉快的学。</tspan></text></g>
<g id="n5d2" class="c"><rect x="478" y="4312.75" width="254" height="104.5" rx="5"/><text x="485" y="4330.25"><tspan x="485">2、运用多样化的教学方法，增加学生的学习</tspan><tspan x="485" dy="15.5">兴趣。新课程物理教学方法多样化是时代的需</tspan><tspan x="485" dy="15.5">要，在物理教学中可采用实验探究法，问题讨</tspan><tspan x="485" dy="15.5">论法，调查事实法等。尤其实验教学应突出实</tspan><tspan x="485" dy="15.5">验、观察与操作的趣味性，进而转化为学生的</tspan><tspan x="485" dy="15.5">积极求知欲。</tspan></text></g>
<g id="n5d3" class="c"><rect x="478" y="4442.5" width="254" height="151" rx="5"/><text x="485" y="4460"><tspan x="485">3、开展多样化的课外活动，巩固课堂学习内</tspan><tspan x="485" dy="15.5">容。教学的空间不要只局限于课堂，教学模式</tspan><tspan x="485" dy="15.5">也不再是那种上课由老师灌，课下围着习题转</tspan><tspan x="485" dy="15.5">的传统的教学模式。中学生有一定的自主性，</tspan><tspan x="485" dy="15.5">他们乐意按照自己的思维行事，解决问题。教</tspan><tspan x="485" dy="15.5">师应尽量满足他们的要求如建立航模组、板报</tspan><tspan x="485" dy="15.5">组、无线电小组、小制作组等让物理走进生活</tspan><tspan x="485" dy="15.5">。使学生在实践中受到锻炼，增长才干，让物</tspan><tspan x="485" dy="15.5">理爱好者充分发挥特长。</tspan></text></g>
<g id="n5d4" class="c"><rect x="478" y="4621.5" width="254" height="89" rx="5"/><text x="485" y="4639"><tspan x="485">4、对学困生给予特别的照顾和关心，努力做</tspan><tspan x="485" dy="15.5">好后进生转化工作。在教学中努力与中差生多</tspan><tspan x="485" dy="15.5">相互交流如提问时容易回答的问题让他们回答</tspan><tspan x="485" dy="15.5">，及时表扬，鼓励。为中差生多创造一些与好</tspan><tspan x="485" dy="15.5">生参与学习的机会。</tspan></text></g>

<g id="n2a" class="o"><rect x="1644" y="378.5" width="84" height="27" rx="5"/><text x="1651" y="396">一、指导思想</text></g>
<g id="n2a1" class="o"><rect x="1751" y="309.75" width="253" height="166.5" rx="5"/><text x="1758" y="327.25"><tspan x="1758">按照市教育局的安排，我们高三化学组以化学</tspan><tspan x="1758" dy="15.5">新课程标准为指引，以考试大纲为依据，认真</tspan><tspan x="1758" dy="15.5">落实学校计划，全面推行素质教育，以提高课</tspan><tspan x="1758" dy="15.5">堂教学质量和培养学生综合能力为目标，抓好</tspan><tspan x="1758" dy="15.5">常规教学，夯实基础，不断优化课堂教学的方</tspan><tspan x="1758" dy="15.5">法和手段，以培养学生自主学习、合作学习的</tspan><tspan x="1758" dy="15.5">能力以及创新思维能力作为教学教研工作的中</tspan><tspan x="1758" dy="15.5">心任务，不断增强高考复习的科学性和实效性</tspan><tspan x="1758" dy="15.5">，加强集体备课，加强对青年教师的指导和培</tspan><tspan x="1758" dy="15.5">养，全面打赢高三这一仗。</tspan></text></g>
<g id="n2b" class="o"><rect x="1644" y="1158.5" width="84" height="27" rx="5"/><text x="1651" y="1176">二、教学要求</text></g>
<g id="n2b1" class="o"><rect x="1751" y="503" width="253" height="182" rx="5"/><text x="1758" y="520.5"><tspan x="1758">1、以刚进入高三学生热情高涨为契机帮助学</tspan><tspan x="1758" dy="15.5">生确立将来的高考目标，积极建设良好的班风</tspan><tspan x="1758" dy="15.5">、学风。加强化学学习方法的指导，帮助学生</tspan><tspan x="1758" dy="15.5">掌握高效的学习方法，以应对日益加深的学习</tspan><tspan x="1758" dy="15.5">内容。认真研究教育改革发展趋势，努力转变</tspan><tspan x="1758" dy="15.5">传统教学观念，积极投身教改实践，勇于探索</tspan><tspan x="1758" dy="15.5">新思路新方法，不断强化学生主体地位，自觉</tspan><tspan x="1758" dy="15.5">面向全体学生，着眼培养学生的科学品质、创</tspan><tspan x="1758" dy="15.5">新精神和综合素质，努力使学生真正成为学习</tspan><tspan x="1758" dy="15.5">的主人，使课堂教学真正成为学生主动参与、</tspan><tspan x="1758" dy="15.5">乐于探究、勤于动手动脑的科学育人过程。</tspan></text></g>
<g id="n2b2" class="o"><rect x="1751" y="711" width="253" height="120" rx="5"/><text x="1758" y="728.5"><tspan x="1758">2、认真研究高考发展趋势，深入学习《考试</tspan><tspan x="1758" dy="15.5">大纲》，正确把握高考的标准和特点，认真分</tspan><tspan x="1758" dy="15.5">析学生学习状况，坚持精心设计和上好每一节</tspan><tspan x="1758" dy="15.5">课，有针对性地制定符合高考发展趋势的教学</tspan><tspan x="1758" dy="15.5">目标，注重培养学生的学习能力和运用基本知</tspan><tspan x="1758" dy="15.5">识分析问题解决问题的能力，不断提高课堂教</tspan><tspan x="1758" dy="15.5">学的科学性和实效性。</tspan></text></g>
<g id="n2b3" class="o"><rect x="1751" y="858.75" width="253" height="166.5" rx="5"/><text x="1758" y="876.25"><tspan x="1758">3、在教学中，仔细分析新教材的特点，狠抓</tspan><tspan x="1758" dy="15.5">高考基础知识、基本技能的落实，加强学科内</tspan><tspan x="1758" dy="15.5">综合的意识，在复习课中，要坚持精选习题，</tspan><tspan x="1758" dy="15.5">妙题精解、融会贯通。防止题海战术和重结论</tspan><tspan x="1758" dy="15.5">、轻过程等不良倾向，提高举一反三的能力。</tspan><tspan x="1758" dy="15.5">立足各班学生实际状况，搞好分类指导、分层</tspan><tspan x="1758" dy="15.5">推进，在夯实基础的同时，重视优秀生的指导</tspan><tspan x="1758" dy="15.5">和训练，关注其每一个错误及时分析错误的原</tspan><tspan x="1758" dy="15.5">因。抓中间促两头，努力使不同层次的学生在</tspan><tspan x="1758" dy="15.5">原有的基础上都能有较大幅度的提高。</tspan></text></g>
<g id="n2b4" class="o"><rect x="1751" y="1052" width="253" height="120" rx="5"/><text x="1758" y="1069.5"><tspan x="1758">4、加强化学教学与科技、生产、生活和社会</tspan><tspan x="1758" dy="15.5">的联系。在教学中，密切联系有关的最新科技</tspan><tspan x="1758" dy="15.5">成果和社会热点问题，注意化学与其他学科的</tspan><tspan x="1758" dy="15.5">相互渗透与综合，加强理科综合能力的培养，</tspan><tspan x="1758" dy="15.5">引导学生在掌握本学科基础知识的同时，不断</tspan><tspan x="1758" dy="15.5">拓展相关知识面，增强理论联系实际和解决实</tspan><tspan x="1758" dy="15.5">际问题的能力，培养学生的科学素养。</tspan></text></g>
<g id="n2b5" class="o"><rect x="1751" y="1278.5" width="248" height="27" rx="5"/><text x="1758" y="1296">5、有意培养学生解题习惯，注重分析订正。</text></g>
<g id="n2b5a" class="o"><rect x="2023" y="1198.75" width="252" height="42.5" rx="5"/><text x="2030" y="1216.25"><tspan x="2030">①做题前认真读题，站在出题者的高度来审题</tspan><tspan x="2030" dy="15.5">。</tspan></text></g>
<g id="n2b5b" class="o"><rect x="2023" y="1267" width="252" height="58" rx="5"/><text x="2030" y="1284.5"><tspan x="2030">②做题过程中，每个步骤都要"言之有理"、准</tspan><tspan x="2030" dy="15.5">确无误，原理、结果与题意一气贯通，书写要</tspan><tspan x="2030" dy="15.5">规范。</tspan></text></g>
<g id="n2b5c" class="o"><rect x="2023" y="1351.5" width="203" height="27" rx="5"/><text x="2030" y="1369">③对做错的题，务必认真分析订正。</text></g>
<g id="n2b6" class="o"><rect x="1751" y="1405.5" width="253" height="151" rx="5"/><text x="1758" y="1423"><tspan x="1758">6、搞好试卷讲评。除年级统考外，本科目还</tspan><tspan x="1758" dy="15.5">要逐章过关。每考必认真落实"统、查、析、</tspan><tspan x="1758" dy="15.5">讲"四大环节：分类统计解法样本，分项统计</tspan><tspan x="1758" dy="15.5">错误地点，分题统计错误人数，分段统计考试</tspan><tspan x="1758" dy="15.5">成绩;查学生审题偏差，查学科知识漏洞，查</tspan><tspan x="1758" dy="15.5">应用能力缺陷，查思维方法障碍，查造成错误</tspan><tspan x="1758" dy="15.5">根源;分析试卷考查目标，考试范围、背景材</tspan><tspan x="1758" dy="15.5">料、命题视角、分析解题方法、应试技巧;讲</tspan><tspan x="1758" dy="15.5">试卷重点、难点、热点、试题闪光点。</tspan></text></g>
<g id="n2b7" class="o"><rect x="1751" y="1582.75" width="253" height="42.5" rx="5"/><text x="1758" y="1600.25"><tspan x="1758">7、要求学生做好章节归纳总结，提倡每日15</tspan><tspan x="1758" dy="15.5">分钟回顾思考消化当天的化学知识。</tspan></text></g>
<g id="n2b8" class="o"><rect x="1751" y="1652.75" width="253" height="42.5" rx="5"/><text x="1758" y="1670.25"><tspan x="1758">8、重视作业。要求学生规范，按时完成;要求</tspan><tspan x="1758" dy="15.5">教师详细批改，改后学生认真更正。</tspan></text></g>
<g id="n2b9" class="o"><rect x="1751" y="1721" width="253" height="58" rx="5"/><text x="1758" y="1738.5"><tspan x="1758">9、集思广益，搞好协作，精选习题，精讲精</tspan><tspan x="1758" dy="15.5">练，不折不扣的完成教学任务，让学生满意、</tspan><tspan x="1758" dy="15.5">让家长放心、让领导宽心。</tspan></text></g>
<g id="n2c" class="o"><rect x="1644" y="2176.5" width="84" height="27" rx="5"/><text x="1651" y="2194">三、工作措施</text></g>
<g id="n2c1" class="o"><rect x="1751" y="1806" width="253" height="182" rx="5"/><text x="1758" y="1823.5"><tspan x="1758">1、由于暑假后开学比较晚，对高三复习的影</tspan><tspan x="1758" dy="15.5">响比较大，时间紧任务重，只能是两节课时复</tspan><tspan x="1758" dy="15.5">习一节内容，这必然严重影响复习的质量，为</tspan><tspan x="1758" dy="15.5">此，我们主要从老师自身出发，强化个人素质</tspan><tspan x="1758" dy="15.5">，提高驾驭课堂的能力，重视集体备课，向课</tspan><tspan x="1758" dy="15.5">堂四十五分钟要质量，主要采取"预习——精</tspan><tspan x="1758" dy="15.5">讲——精练——点评"的模式，力求稳扎稳打</tspan><tspan x="1758" dy="15.5">，一步一个脚印的搞好第一轮复习，并在此基</tspan><tspan x="1758" dy="15.5">础上，第二轮复习突出抓好几个专题，重点抓</tspan><tspan x="1758" dy="15.5">好第三轮复习和综合训练，力争高考取得较好</tspan><tspan x="1758" dy="15.5">的成绩。</tspan></text></g>
<g id="n2c2" class="o"><rect x="1751" y="2142.5" width="248" height="27" rx="5"/><text x="1758" y="2160">2、认真做好教学常规，确保教学有效开展。</text></g>
<g id="n2c2a" class="o"><rect x="2023" y="2015.25" width="252" height="135.5" rx="5"/><text x="2030" y="2032.75"><tspan x="2030">认真备好每节课，按照课程标准的要求，积极</tspan><tspan x="2030" dy="15.5">认真地做好课前的备课资料的搜集工作。认真</tspan><tspan x="2030" dy="15.5">上好每节课，积极实践新课程理念，把握好课</tspan><tspan x="2030" dy="15.5">堂，提高课堂教学的实效性。精心设置习题，</tspan><tspan x="2030" dy="15.5">合理、分层布置学生作业，活页课时作业和单</tspan><tspan x="2030" dy="15.5">元测试要求全批全改;不定期抽查，发现问题</tspan><tspan x="2030" dy="15.5">及时解决、及时反馈。精选习题，并要达到一</tspan><tspan x="2030" dy="15.5">定的预期效果。</tspan></text></g>
<g id="n2c2b" class="o"><rect x="2023" y="2175.75" width="252" height="104.5" rx="5"/><text x="2030" y="2193.25"><tspan x="2030">对化学有特殊爱好的同学，给予适当的指导。</tspan><tspan x="2030" dy="15.5">可以利用周末时间进行具体的辅导，并布置较</tspan><tspan x="2030" dy="15.5">高要求的作业，以促进特长生的发展。要重视</tspan><tspan x="2030" dy="15.5">学习方法的指导，对个别有心理障碍的同学要</tspan><tspan x="2030" dy="15.5">及时进行心理干预，帮助他们克服困难，迎难</tspan><tspan x="2030" dy="15.5">而上。</tspan></text></g>
<g id="n2c3" class="o"><rect x="1751" y="2346.5" width="248" height="27" rx="5"/><text x="1758" y="2364">3、积极开展实验教学，提高学生学习兴趣。</text></g>
<g id="n2c3a" class="o"><rect x="2023" y="2307.75" width="252" height="104.5" rx="5"/><text x="2030" y="2325.25"><tspan x="2030">化学是一门以实验为基础的自然科学，积极、</tspan><tspan x="2030" dy="15.5">认真开展实验教学有助于提高学生的学习兴趣</tspan><tspan x="2030" dy="15.5">和直观理解，有助于培养学生实验能力。依据</tspan><tspan x="2030" dy="15.5">学校现有实验条件，在复习后期开放实验室，</tspan><tspan x="2030" dy="15.5">尽可能的提供实验仪器，以提高学生的实验能</tspan><tspan x="2030" dy="15.5">力。</tspan></text></g>
<g id="n2c4" class="o"><rect x="1751" y="2470.5" width="175" height="27" rx="5"/><text x="1758" y="2488">4、继续开展和加强学案教学。</text></g>
<g id="n2c4a" class="o"><rect x="1950" y="2439.5" width="252" height="89" rx="5"/><text x="1957" y="2457"><tspan x="1957">学案运用要系列化。自学探究学案——技能</tspan><tspan x="1957" dy="15.5">训练学案——综合检测学案——复习巩固学</tspan><tspan x="1957" dy="15.5">案，构成学案系列。让学生全过程参与学习，</tspan><tspan x="1957" dy="15.5">全面提高学习能力。当然学案要力求实效，切</tspan><tspan x="1957" dy="15.5">忌"假大空"、走过场。</tspan></text></g>
<g id="n2d" class="o"><rect x="1644" y="2657.5" width="84" height="27" rx="5"/><text x="1651" y="2675">四、教学进度</text></g>
<g id="n2d1" class="o"><rect x="1751" y="2553.75" width="253" height="42.5" rx="5"/><text x="1758" y="2571.25"><tspan x="1758">复习采取三轮四段复习法。年前进行2、3次</tspan><tspan x="1758" dy="15.5">理科综合测试。</tspan></text></g>
<g id="n2d2" class="o"><rect x="1751" y="2623.25" width="253" height="73.5" rx="5"/><text x="1758" y="2640.75"><tspan x="1758">1、第二轮复习(2020年2月上旬～5月中旬)，</tspan><tspan x="1758" dy="15.5">以综合能力为主、板块式推进，专题复习、考</tspan><tspan x="1758" dy="15.5">点精练。将各知识点有效的串接起来，形成有</tspan><tspan x="1758" dy="15.5">效的知识框架结构。</tspan></text></g>
<g id="n2d3" class="o"><rect x="1751" y="2723.5" width="253" height="89" rx="5"/><text x="1758" y="2741"><tspan x="1758">2、第三轮复习(2020年5月下旬～6月底)即综</tspan><tspan x="1758" dy="15.5">合训练和模拟练习，知识迁移能力的训练。强</tspan><tspan x="1758" dy="15.5">化训练阶段。自我小结、查漏补缺，教师点拨</tspan><tspan x="1758" dy="15.5">精讲，重在抓学生完成学科内知识体系的构建</tspan><tspan x="1758" dy="15.5">，计划每周两套题，采取练、评的教学方式。</tspan></text></g>

<g id="n4a" class="y"><rect x="1644" y="2839" width="252" height="58" rx="5"/><text x="1651" y="2856.5"><tspan x="1651">新学期已开始，为使新学期的工作有条不紊的</tspan><tspan x="1651" dy="15.5">进行，使教学工作更加科学合理，特订新学期</tspan><tspan x="1651" dy="15.5">个人教学计划如下</tspan></text></g>
<g id="n4b" class="y"><rect x="1644" y="2947.5" width="84" height="27" rx="5"/><text x="1651" y="2965">一、指导思想</text></g>
<g id="n4b1" class="y"><rect x="1751" y="2924.25" width="253" height="73.5" rx="5"/><text x="1758" y="2941.75"><tspan x="1758">加强现代教育理论的学习，提高自身的素质，</tspan><tspan x="1758" dy="15.5">转变教育观念，以教育科研为先导，以培养学</tspan><tspan x="1758" dy="15.5">生的创新精神和实践能力为重点，深化课堂教</tspan><tspan x="1758" dy="15.5">学改革，大力推进素质教育。</tspan></text></g>
<g id="n4c" class="y"><rect x="1644" y="3213.5" width="84" height="27" rx="5"/><text x="1651" y="3231">二、教材分析</text></g>
<g id="n4c0" class="y"><rect x="1751" y="3213.5" width="204" height="27" rx="5"/><text x="1758" y="3231">本册教材具有以下几个明显的特点：</text></g>
<g id="n4c1" class="y"><rect x="1979" y="3054.5" width="176" height="27" rx="5"/><text x="1986" y="3072">1、为学生的物理学习构筑起点</text></g>
<g id="n4c1a" class="y"><rect x="2178" y="3023.5" width="252" height="89" rx="5"/><text x="2185" y="3041"><tspan x="2185">教科书提供了大量物理研究的基础知识和实验</tspan><tspan x="2185" dy="15.5">，作为所有学生从事物理学习的出发点，目的</tspan><tspan x="2185" dy="15.5">是使学生能够在所提供的学习情景中，通过实</tspan><tspan x="2185" dy="15.5">验、探索与交流等活动，获得必要的基础发展</tspan><tspan x="2185" dy="15.5">。</tspan></text></g>
<g id="n4c2" class="y"><rect x="1979" y="3153.75" width="252" height="42.5" rx="5"/><text x="1986" y="3171.25"><tspan x="1986">2、向学生提供现实、有趣、富有挑战性的学</tspan><tspan x="1986" dy="15.5">习素材</tspan></text></g>
<g id="n4c2a" class="y"><rect x="2255" y="3138.25" width="252" height="73.5" rx="5"/><text x="2262" y="3155.75"><tspan x="2262">教科书从学生实际出发，用他们熟悉或感兴趣</tspan><tspan x="2262" dy="15.5">的问题情景引入学习主题，并提供了众多结合</tspan><tspan x="2262" dy="15.5">实际而富有物理意义的问题，以展开物理探究</tspan><tspan x="2262" dy="15.5">。</tspan></text></g>
<g id="n4c3" class="y"><rect x="1979" y="3262.5" width="222" height="27" rx="5"/><text x="1986" y="3280">3、为学生提供探索、交流的时间与空间</text></g>
<g id="n4c3a" class="y"><rect x="2226" y="3239.25" width="253" height="73.5" rx="5"/><text x="2233" y="3256.75"><tspan x="2233">教科书依据学生已有的知识背景和活动经验，</tspan><tspan x="2233" dy="15.5">提供了大量的实验、思考与交流的机会，帮助</tspan><tspan x="2233" dy="15.5">学生通过探究与交流，梳理所学的知识，建立</tspan><tspan x="2233" dy="15.5">符合个体认知特点的知识结构。</tspan></text></g>
<g id="n4c4" class="y"><rect x="1979" y="3362.5" width="200" height="27" rx="5"/><text x="1986" y="3380">4、展现物理知识的形成与应用过程</text></g>
<g id="n4c4a" class="y"><rect x="2201" y="3339.25" width="253" height="73.5" rx="5"/><text x="2208" y="3356.75"><tspan x="2208">教科书采用"提出问题——猜想——设计实验</tspan><tspan x="2208" dy="15.5">——分析数据——得出结论"的模式展开，有</tspan><tspan x="2208" dy="15.5">利于学生更好地理解物理、应用物理，增强学</tspan><tspan x="2208" dy="15.5">好物理的信心。</tspan></text></g>
<g id="n4d" class="y"><rect x="1644" y="3574.5" width="84" height="27" rx="5"/><text x="1651" y="3592">三、教学措施</text></g>
<g id="n4d1" class="y"><rect x="1751" y="3439" width="253" height="58" rx="5"/><text x="1758" y="3456.5"><tspan x="1758">1、根据学生实际，创造性地使用教材，积极</tspan><tspan x="1758" dy="15.5">开发和利用各种教学资源，为学生提供丰富多</tspan><tspan x="1758" dy="15.5">彩的学习素材。</tspan></text></g>
<g id="n4d2" class="y"><rect x="1751" y="3523.25" width="253" height="73.5" rx="5"/><text x="1758" y="3540.75"><tspan x="1758">2、加强直观教学，充分利用教具、学具等多</tspan><tspan x="1758" dy="15.5">媒体教学，以丰富学生感知认识对象的途径，</tspan><tspan x="1758" dy="15.5">促使他们更加乐意联系生活学习物理、更好地</tspan><tspan x="1758" dy="15.5">理解物理。</tspan></text></g>
<g id="n4d3" class="y"><rect x="1751" y="3624.5" width="151" height="27" rx="5"/><text x="1758" y="3642">3、关注学生的个体差异。</text></g>
<g id="n4d4" class="y"><rect x="1751" y="3677" width="253" height="58" rx="5"/><text x="1758" y="3694.5"><tspan x="1758">4、加强学生学习习惯的培养，主要培养学生</tspan><tspan x="1758" dy="15.5">的分析)，有效的实施有差异的教学，使每个</tspan><tspan x="1758" dy="15.5">学生都能得到充分的发展。</tspan></text></g>

<g id="g1" class="g"><rect x="1675" y="3762.5" width="185" height="27" rx="5"/><text x="1682" y="3780">★ 高二上学期化学教学计划2021</text></g>
<g id="g2" class="g"><rect x="1675" y="3815.5" width="149" height="27" rx="5"/><text x="1682" y="3833">★ 化学学科教学计划2021</text></g>
<g id="g3" class="g"><rect x="1675" y="3869.5" width="149" height="27" rx="5"/><text x="1682" y="3887">★ 高三化学教学计划2021</text></g>
<g id="g4" class="g"><rect x="1675" y="3922.5" width="161" height="27" rx="5"/><text x="1682" y="3940">★ 化学备课组教学计划2021</text></g>
<g id="g5" class="g"><rect x="1675" y="3976.5" width="199" height="27" rx="5"/><text x="1682" y="3994">★ 九年级化学学科教学计划指导5篇</text></g>
<g id="g6" class="g"><rect x="1675" y="4030.5" width="221" height="27" rx="5"/><text x="1682" y="4048">★ 高中教师学期工作计划2021【五篇】</text></g>
<g id="g7" class="g"><rect x="1675" y="4083.5" width="185" height="27" rx="5"/><text x="1682" y="4101">★ 高中英语学期教学计划表2021</text></g>
<g id="g8" class="g"><rect x="1675" y="4136.5" width="218" height="27" rx="5"/><text x="1682" y="4154">★ 高中化学老师教学工作总结【五篇】</text></g>
<g id="g9" class="g"><rect x="1675" y="4190.5" width="169" height="27" rx="5"/><text x="1682" y="4208">★ 化学教师培训总结模板范文</text></g>
<g id="g10" class="g"><rect x="1675" y="4243.5" width="141" height="27" rx="5"/><text x="1682" y="4261">★ 生物全册教学计划5篇</text></g>
</g>
</svg>
